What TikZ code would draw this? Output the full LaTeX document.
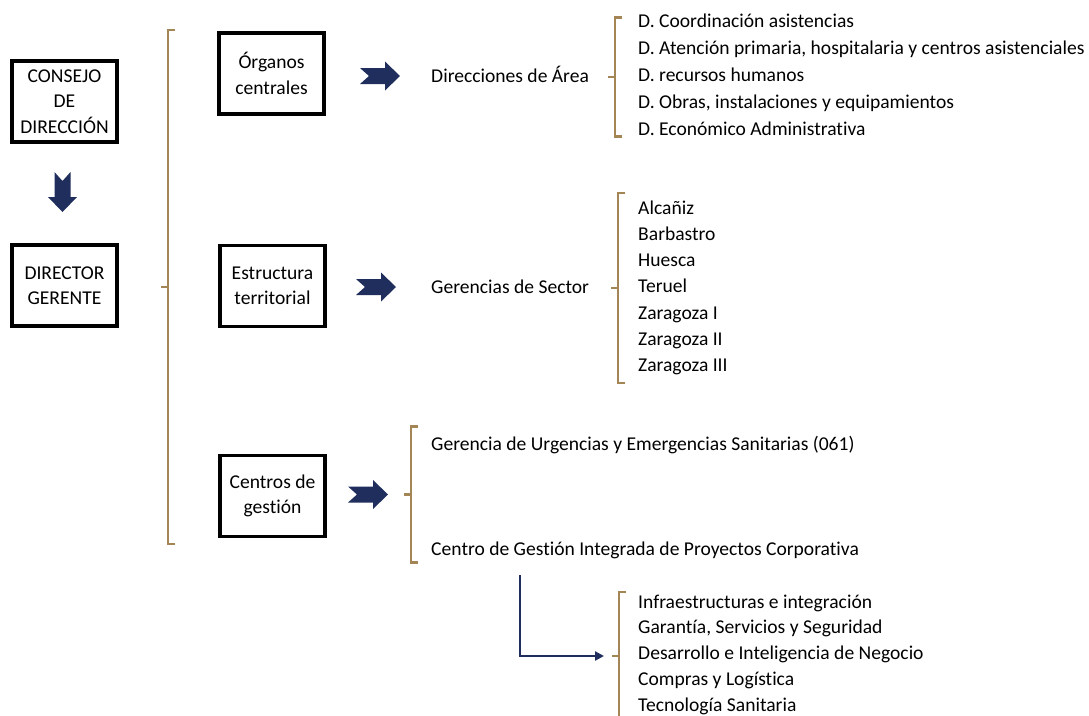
\documentclass[tikz,border=0pt]{standalone}
\usepackage{fontspec}
\setmainfont{Carlito}[Ligatures=NoCommon]
\usetikzlibrary{arrows.meta}
\definecolor{navyarrow}{RGB}{31,46,92}
\definecolor{bracketbrown}{RGB}{164,134,86}
\newcommand{\orgfont}{\fontsize{16.7}{21.7}\selectfont}
\tikzset{
    orgbox/.style={draw, line width=2.8pt, minimum width=3.15cm,
        minimum height=2.43cm, align=center, inner sep=0pt, font=\orgfont},
    item/.style={anchor=base west, inner sep=0pt, font=\orgfont},
    bracketline/.style={draw=bracketbrown, line width=2.2pt},
    navyline/.style={draw=navyarrow, line width=2.3pt},
    notcharrow/.pic={
        \fill[navyarrow] (0, -8) -- (25, -8) -- (25, -14.5) -- (40, 0)
            -- (25, 14.5) -- (25, 8) -- (0, 8) -- (9, 0) -- cycle;
    },
    pics/bracket/.style={code={
        \draw[bracketline] (7, -#1) -- (0, -#1) -- (0, #1) -- (7, #1);
        \draw[bracketline] (0, 0) -- (-7, 0);
    }},
}

\begin{document}
\begin{tikzpicture}[x=0.03cm, y=-0.03cm]
    \useasboundingbox (0, 0) rectangle (1089, 715);
    % left column
    \node[orgbox] (consejo) at (64.5, 101.5) {CONSEJO\\DE\\DIRECCIÓN};
    \node[orgbox] (director) at (64.5, 285.5) {DIRECTOR\\GERENTE};
    \pic[rotate=-90] at (62.5, 172) {notcharrow};
    \pic at (168, 287) {bracket=257};

    % second column
    \node[orgbox] (organos) at (271.5, 73.5) {Órganos\\centrales};
    \node[orgbox] (estructura) at (272.5, 286) {Estructura\\territorial};
    \node[orgbox] (centros) at (272.5, 496) {Centros de\\gestión};
    \pic at (360, 76) {notcharrow};
    \pic at (356, 287) {notcharrow};
    \pic at (348, 494.5) {notcharrow};

    % third column
    \node[item] (direcciones) at (431, 82) {Direcciones de Área};
    \node[item] (gerencias) at (431, 293) {Gerencias de Sector};
    \node[item] (urgencias) at (431, 450) {Gerencia de Urgencias y Emergencias Sanitarias (061)};
    \node[item] (cgipc) at (431, 555) {Centro de Gestión Integrada de Proyectos Corporativa};
    \pic at (615, 77) {bracket=59.5};
    \pic at (618, 288) {bracket=95};
    \pic at (411, 494.5) {bracket=68};

    % lists
    \foreach \txt [count=\i from 0] in {D. Coordinación asistencias,
        {D. Atención primaria, hospitalaria y centros asistenciales},
        D. recursos humanos, {D. Obras, instalaciones y equipamientos},
        D. Económico Administrativa}
        \node[item] (darea\i) at (638, 27+27*\i) {\txt};
    \foreach \txt [count=\i from 0] in {Alcañiz, Barbastro, Huesca, Teruel,
        Zaragoza I, Zaragoza II, Zaragoza III}
        \node[item] (sector\i) at (638, 214+26.3*\i) {\txt};
    \foreach \txt [count=\i from 0] in {Infraestructuras e integración,
        {Garantía, Servicios y Seguridad}, Desarrollo e Inteligencia de Negocio,
        Compras y Logística, Tecnología Sanitaria}
        \node[item] (cgi\i) at (638, 608+25.75*\i) {\txt};

    % elbow to the last list
    \coordinate (elbowtop) at (520, 575);
    \coordinate (elbowend) at (604, 656);
    \draw[navyline, -{Triangle[length=0.27cm, width=0.27cm]}] (elbowtop) |- (elbowend);
    \pic at (619, 656) {bracket=64};
\end{tikzpicture}
\end{document}
